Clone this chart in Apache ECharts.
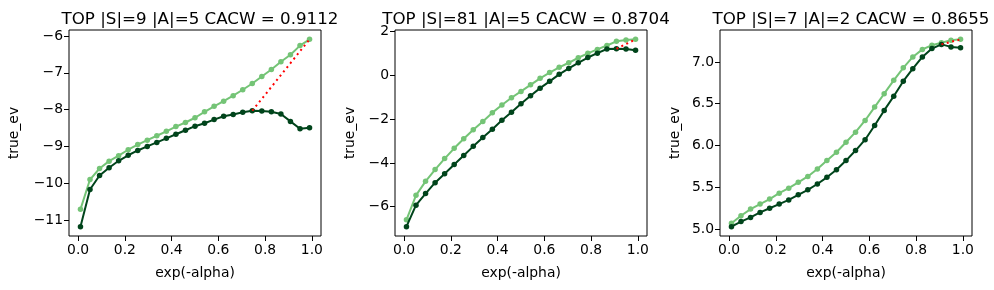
<!DOCTYPE html>
<html>
<head>
<meta charset="utf-8">
<script src="https://cdn.jsdelivr.net/npm/echarts@6/dist/echarts.min.js"></script>
<style>
html,body{margin:0;padding:0;background:#fff;}
#c{width:994px;height:290px;}
</style>
</head>
<body>
<div id="c"></div>
<script>
// ---- data ----
const xValues = [0.01,0.0508,0.0917,0.1325,0.1733,0.2142,0.255,0.2958,0.3367,0.3775,0.4183,0.4592,0.5,0.5408,0.5817,0.6225,0.6633,0.7042,0.745,0.7858,0.8267,0.8675,0.9083,0.9492,0.99];

const titles = ["TOP |S|=9 |A|=5 CACW = 0.9112", "TOP |S|=81 |A|=5 CACW = 0.8704", "TOP |S|=7 |A|=2 CACW = 0.8655"];

const light1 = [-10.71,-9.90,-9.60,-9.40,-9.25,-9.09,-8.95,-8.83,-8.71,-8.59,-8.46,-8.35,-8.22,-8.06,-7.91,-7.77,-7.62,-7.46,-7.29,-7.10,-6.91,-6.70,-6.51,-6.26,-6.09];
const dark1  = [-11.18,-10.17,-9.79,-9.58,-9.39,-9.24,-9.11,-9.00,-8.89,-8.78,-8.67,-8.56,-8.45,-8.37,-8.27,-8.18,-8.13,-8.07,-8.03,-8.04,-8.06,-8.12,-8.32,-8.52,-8.49];

const light2 = [-6.60,-5.48,-4.84,-4.30,-3.80,-3.33,-2.89,-2.48,-2.10,-1.70,-1.35,-1.02,-0.73,-0.43,-0.13,0.13,0.37,0.58,0.81,1.01,1.19,1.37,1.56,1.62,1.65];
const dark2  = [-6.91,-5.93,-5.40,-4.90,-4.49,-4.07,-3.66,-3.24,-2.84,-2.46,-2.05,-1.68,-1.29,-0.93,-0.58,-0.27,0.05,0.32,0.58,0.82,1.02,1.21,1.22,1.21,1.15];

const light3 = [5.07,5.16,5.24,5.30,5.36,5.43,5.49,5.56,5.63,5.72,5.82,5.92,6.04,6.16,6.30,6.46,6.62,6.78,6.93,7.06,7.15,7.20,7.23,7.26,7.27];
const dark3  = [5.03,5.09,5.14,5.20,5.25,5.30,5.35,5.41,5.47,5.54,5.62,5.71,5.82,5.94,6.07,6.24,6.42,6.59,6.77,6.92,7.06,7.16,7.21,7.18,7.17];

const xTicks = [0.0,0.2,0.4,0.6,0.8,1.0];
const yTicks1 = [-11,-10,-9,-8,-7,-6];
const yTicks2 = [-6,-4,-2,0,2];
const yTicks3 = [5.0,5.5,6.0,6.5,7.0];

// ---- chart ----
const panels = [
  {light: light1, dark: dark1, yTicks: yTicks1, dec: 0, left: 69, gap: 48},
  {light: light2, dark: dark2, yTicks: yTicks2, dec: 0, left: 395, gap: 38},
  {light: light3, dark: dark3, yTicks: yTicks3, dec: 1, left: 720, gap: 38}
];
const FONT = 'DejaVu Sans';
const W = 252, TOP = 30, H = 206;
const fmt = (v, d) => v.toFixed(d).replace('-', '\u2212');

const grids = [], xAxes = [], yAxes = [], series = [], titleOpts = [];
const xmin = Math.min(...xValues), xmax = Math.max(...xValues), xpad = 0.05*(xmax-xmin);

panels.forEach((p, i) => {
  grids.push({left: p.left, top: TOP, width: W, height: H, show: true, borderColor: '#000', borderWidth: 1, backgroundColor: 'transparent'});
  titleOpts.push({text: titles[i], left: p.left + W/2, top: 6, textAlign: 'center',
    textStyle: {fontFamily: FONT, fontSize: 16.7, fontWeight: 'normal', color: '#000'}});
  xAxes.push({type: 'value', gridIndex: i, min: xmin - xpad, max: xmax + xpad, position: 'bottom',
    name: 'exp(-alpha)', nameLocation: 'middle', nameGap: 30,
    nameTextStyle: {fontFamily: FONT, fontSize: 13.9, color: '#000'},
    axisLine: {show: false, onZero: false}, splitLine: {show: false},
    axisTick: {show: true, inside: false, length: 5, customValues: xTicks, lineStyle: {color: '#000', width: 1}},
    axisLabel: {customValues: xTicks, formatter: v => fmt(v, 1), fontFamily: FONT, fontSize: 13.9, color: '#000', margin: 7}
  });
  const all = p.light.concat(p.dark);
  const ymn = Math.min(...all), ymx = Math.max(...all), ypad = 0.05*(ymx-ymn);
  yAxes.push({type: 'value', gridIndex: i, min: ymn - ypad, max: ymx + ypad, position: 'left',
    name: 'true_ev', nameLocation: 'middle', nameGap: p.gap, nameRotate: 90,
    nameTextStyle: {fontFamily: FONT, fontSize: 13.9, color: '#000'},
    axisLine: {show: false, onZero: false}, splitLine: {show: false},
    axisTick: {show: true, inside: false, length: 5, customValues: p.yTicks, lineStyle: {color: '#000', width: 1}},
    axisLabel: {customValues: p.yTicks, formatter: v => fmt(v, p.dec), fontFamily: FONT, fontSize: 13.9, color: '#000', margin: 6}
  });
  const lightData = xValues.map((x, k) => [x, p.light[k]]);
  const darkData = xValues.map((x, k) => [x, p.dark[k]]);
  series.push({type: 'line', xAxisIndex: i, yAxisIndex: i, data: lightData, symbol: 'circle', symbolSize: 5.5,
    lineStyle: {color: '#74c476', width: 2}, itemStyle: {color: '#74c476'}, animation: false, z: 2});
  series.push({type: 'line', xAxisIndex: i, yAxisIndex: i, data: darkData, symbol: 'circle', symbolSize: 5.5,
    lineStyle: {color: '#00441b', width: 2}, itemStyle: {color: '#00441b'}, animation: false, z: 3});
  // dotted red line from the dark curve's maximum to the light curve's last point
  let km = 0; p.dark.forEach((v, k) => { if (v > p.dark[km]) km = k; });
  const last = xValues.length - 1;
  series.push({type: 'line', xAxisIndex: i, yAxisIndex: i,
    data: [[xValues[km], p.dark[km]], [xValues[last], p.light[last]]],
    symbol: 'none', lineStyle: {color: '#ff0000', width: 2, type: [2, 3.5]}, animation: false, z: 4});
});

const chart = echarts.init(document.getElementById('c'), null, {renderer: 'canvas'});
chart.setOption({
  backgroundColor: '#fff',
  animation: false,
  title: titleOpts,
  grid: grids,
  xAxis: xAxes,
  yAxis: yAxes,
  series: series
});
</script>
</body>
</html>
